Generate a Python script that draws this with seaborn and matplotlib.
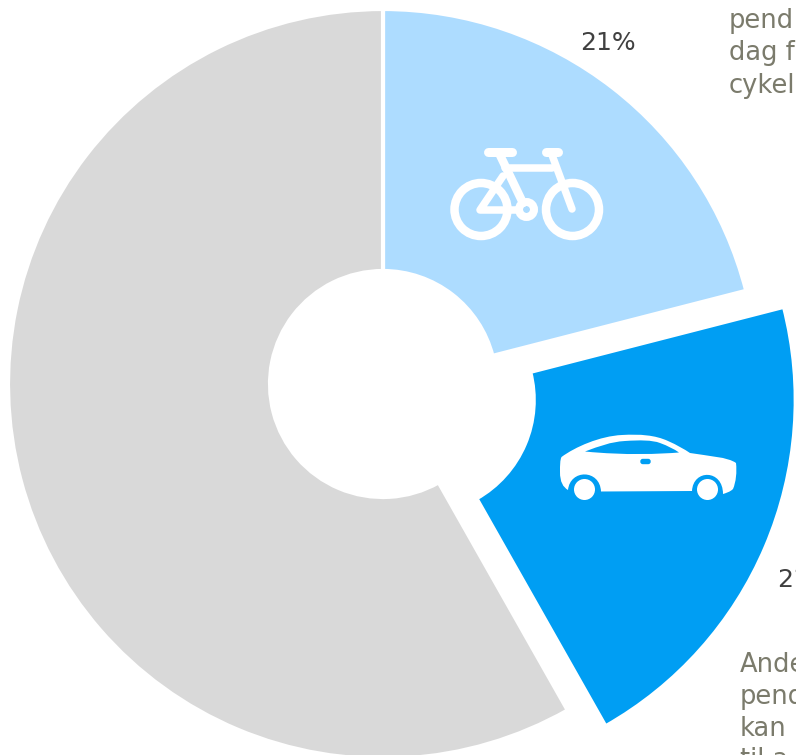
import matplotlib
matplotlib.use("Agg")
import matplotlib.pyplot as plt
import seaborn as sns
from matplotlib.patches import Circle, FancyBboxPatch, PathPatch
from matplotlib.path import Path

# Commuting shares, in percent
modes = ["Cykel", "Bil", "Øvrige"]
shares = [21.0, 20.8, 58.2]
mode_colors = ["#ADDCFF", "#009EF3", "#D9D9D9"]
note_top = ["pend", "dag f", "cykel"]
note_bottom = ["Ande", "pend", "kan", "til a"]

WIDTH, HEIGHT = 796, 755
INK = "#404040"
NOTE = "#7B7B6C"

sns.set_theme(style="white")
plt.rcParams["font.family"] = ["DejaVu Sans"]

fig = plt.figure(figsize=(WIDTH / 100, HEIGHT / 100), dpi=100)
fig.patch.set_facecolor("white")

# Donut, laid out in pixel units
ax = fig.add_axes([0, 0, 1, 1])
ax.pie(
    shares,
    colors=mode_colors,
    explode=[0, 41, 0],
    center=(383, HEIGHT - 384),
    radius=375,
    startangle=90,
    counterclock=False,
    wedgeprops={"width": 262, "edgecolor": "white", "linewidth": 3},
)
ax.set_xlim(0, WIDTH)
ax.set_ylim(0, HEIGHT)
ax.set_aspect("equal")
ax.axis("off")

# Overlay with y pointing down for the icons and the text
top = fig.add_axes([0, 0, 1, 1])
top.set_xlim(0, WIDTH)
top.set_ylim(HEIGHT, 0)
top.axis("off")
top.patch.set_alpha(0)


def px(width):
    return width * 72 / 100


def stroke(points, width):
    xs, ys = zip(*points)
    top.plot(xs, ys, color="white", lw=px(width), solid_capstyle="round",
             solid_joinstyle="round")


# Bicycle icon
for cx in (481, 572.5):
    top.add_patch(Circle((cx, 209.5), 26.5, fc="none", ec="white", lw=px(8.5)))
stroke([(488, 152), (512, 152)], 9)
stroke([(546, 152), (558, 152)], 9)
stroke([(499, 153), (523, 203)], 8.5)
stroke([(505, 168), (552, 168)], 7.5)
stroke([(552, 155), (572, 209)], 7.5)
stroke([(503, 176), (480, 210), (518, 210)], 7.5)
top.add_patch(Circle((526.5, 209.5), 7.5, fc="none", ec="white", lw=px(8)))

# Car icon
body = [
    (Path.MOVETO, (561.5, 457)),
    (Path.CURVE4, (575, 447)), (Path.CURVE4, (600, 436)), (Path.CURVE4, (622, 435)),
    (Path.CURVE4, (640, 434)), (Path.CURVE4, (655, 435)), (Path.CURVE4, (668, 441)),
    (Path.CURVE4, (677, 445)), (Path.CURVE4, (684, 449)), (Path.CURVE4, (690, 453)),
    (Path.CURVE4, (708, 456)), (Path.CURVE4, (728, 457)), (Path.CURVE4, (736, 463)),
    (Path.CURVE4, (737, 472)), (Path.CURVE4, (736, 482)), (Path.CURVE4, (733, 489)),
    (Path.CURVE4, (730, 492)), (Path.CURVE4, (726, 493)), (Path.LINETO, (723, 494)),
    (Path.CURVE4, (723, 469)), (Path.CURVE4, (693, 469)), (Path.CURVE4, (692, 491)),
    (Path.LINETO, (601, 491.5)),
    (Path.CURVE4, (600, 469)), (Path.CURVE4, (570, 469)), (Path.CURVE4, (568, 490)),
    (Path.CURVE4, (563, 487)), (Path.CURVE4, (560, 482)), (Path.CURVE4, (560, 472)),
    (Path.CURVE4, (560, 465)), (Path.CURVE4, (560, 460)), (Path.CURVE4, (561.5, 457)),
    (Path.CLOSEPOLY, (561.5, 457)),
]
codes, verts = zip(*body)
top.add_patch(PathPatch(Path(verts, codes), fc="white", ec="none"))

window = [
    (Path.MOVETO, (585, 451.5)),
    (Path.CURVE4, (600, 446)), (Path.CURVE4, (610, 442)), (Path.CURVE4, (625, 441)),
    (Path.CURVE4, (640, 440)), (Path.CURVE4, (652, 440)), (Path.CURVE4, (660, 443)),
    (Path.CURVE4, (668, 446)), (Path.CURVE4, (674, 449)), (Path.CURVE4, (679, 452.5)),
    (Path.CURVE4, (660, 454)), (Path.CURVE4, (625, 455.5)), (Path.CURVE4, (585, 451.5)),
    (Path.CLOSEPOLY, (585, 451.5)),
]
codes, verts = zip(*window)
top.add_patch(PathPatch(Path(verts, codes), fc=mode_colors[1], ec="none"))
top.add_patch(FancyBboxPatch((641.5, 460), 8, 3, boxstyle="round,pad=1.2,rounding_size=2.5",
                             fc=mode_colors[1], ec="none"))
for cx in (584.5, 707.5):
    top.add_patch(Circle((cx, 489.5), 10.5, fc="white", ec="none"))

# Value labels and notes
top.text(580.5, 50, f"{round(shares[0])}%", fontsize=18, color=INK, va="baseline")
top.text(777, 587, f"{round(shares[1])}%", fontsize=18, color=INK, va="baseline")
for baseline, line in zip((28, 60.5, 93), note_top):
    top.text(729, baseline, line, fontsize=18.5, color=NOTE, va="baseline")
for baseline, line in zip((672, 704, 735.5, 767), note_bottom):
    top.text(739.5, baseline, line, fontsize=18.5, color=NOTE, va="baseline")

fig.savefig("out.png", dpi=100)
